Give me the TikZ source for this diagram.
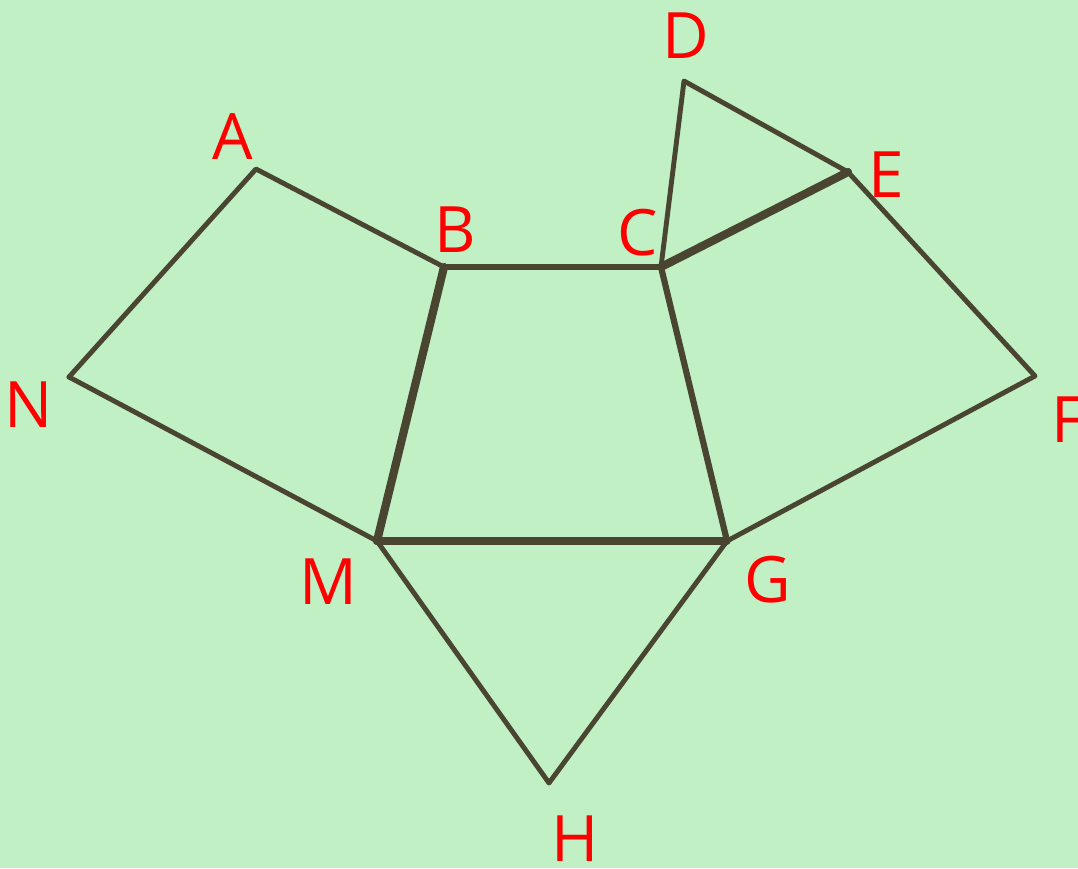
\documentclass[tikz,border=0pt]{standalone}
\usepackage{fontspec}
\setmainfont{Open Sans}
\definecolor{bg}{HTML}{C0F0C4}
\definecolor{edge}{HTML}{4A4530}
\definecolor{lbl}{HTML}{FF0000}
\begin{document}
\begin{tikzpicture}[x=1pt,y=-1pt,
  seg/.style={draw=edge,line width=4.9pt,line cap=round,line join=round},
  lab/.style={text=lbl,inner sep=0pt,font=\fontsize{64}{64}\selectfont}]
\fill[bg] (0,0) rectangle (1078,868);
\useasboundingbox (0,0) rectangle (1078,868);
\coordinate (A) at (256,169);
\coordinate (B) at (444,267);
\coordinate (C) at (661,267);
\coordinate (D) at (684,81);
\coordinate (E) at (848,172);
\coordinate (F) at (1035,376);
\coordinate (G) at (727,541);
\coordinate (H) at (549,783);
\coordinate (M) at (377,541);
\coordinate (N) at (69,377);
\draw[seg] (N) -- (A) -- (B);
\draw[seg] (N) -- (M);
\draw[seg,line width=5.9pt] (B) -- (C);
\draw[seg] (C) -- (D) -- (E) -- (F) -- (G);
\draw[seg,line width=6.2pt] (C) -- (G);
\draw[seg] (M) -- (H) -- (G);
\draw[seg,line width=7.4pt] (M) -- (G);
\draw[seg,line width=8.2pt] (B) -- (M);
\draw[seg,line width=8.2pt] (C) -- (E);
\node[lab] (lA) at (233,137) {A};
\node[lab] (lB) at (455,230) {B};
\node[lab] (lC) at (638,233) {C};
\node[lab] (lD) at (686,36) {D};
\node[lab] (lE) at (886,175) {E};
\node[lab] (lF) at (1068,420) {F};
\node[lab] (lG) at (768,580) {G};
\node[lab] (lH) at (575,839) {H};
\node[lab] (lM) at (328,582) {M};
\node[lab] (lN) at (29,405) {N};
\end{tikzpicture}
\end{document}
